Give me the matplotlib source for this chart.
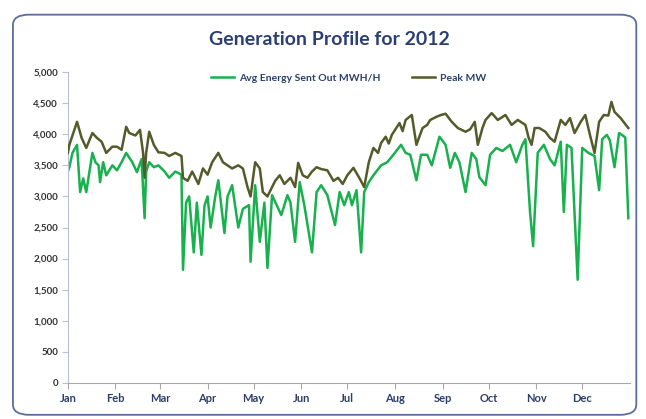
import numpy as np
import matplotlib
matplotlib.use("Agg")
import matplotlib.pyplot as plt
import matplotlib.dates as mdates
from matplotlib.patches import FancyBboxPatch

# Day-of-year (0 = 1 Jan 2012) and values
peak_days = [0, 1, 6, 9, 12, 16, 19, 22, 25, 29, 32, 35, 38, 40, 44, 47, 49, 50, 51, 53, 56, 59,
             63, 66, 70, 74, 75, 78, 81, 85, 88, 91, 94, 98, 101, 104, 107, 111, 114, 117, 119,
             122, 125, 127, 130, 132, 135, 138, 141, 145, 148, 150, 153, 156, 159, 162, 165, 169, 173, 176, 179,
             182, 186, 190, 193, 196, 199, 202, 204, 207, 209, 211, 216, 218, 220, 224, 227, 231, 234, 236, 240, 243,
             246, 250, 254, 259, 262, 265, 267, 270, 272, 276, 280, 285, 289, 293, 298, 300, 302,
             304, 307, 311, 314, 317, 321, 324, 327, 330, 334, 337, 340, 343, 346, 349, 352, 354, 356, 360, 365]
peak_mw = [3700, 3830, 4200, 3940, 3780, 4020, 3940, 3880, 3700, 3800, 3800, 3750, 4120, 4020, 3980, 4070, 3700, 3300, 3700, 4040, 3830, 3710,
           3700, 3650, 3700, 3650, 3300, 3250, 3400, 3200, 3450, 3350, 3550, 3700, 3550, 3500, 3450, 3500, 3450, 3150, 3000,
           3550, 3450, 3070, 3000, 3100, 3250, 3340, 3200, 3300, 3150, 3540, 3340, 3300, 3400, 3470, 3440, 3420, 3250, 3300, 3200,
           3340, 3460, 3290, 3150, 3550, 3780, 3700, 3860, 3960, 3850, 3990, 4180, 4050, 4230, 4310, 3830, 4100, 4150, 4230, 4280, 4310,
           4330, 4200, 4100, 4040, 4080, 4200, 3830, 4100, 4230, 4340, 4230, 4310, 4150, 4230, 4150, 3950, 3830,
           4100, 4100, 4040, 3940, 3880, 4230, 4150, 4260, 4020, 4200, 4310, 3990, 3700, 4200, 4310, 4300, 4520, 4360, 4260, 4100]

avg_days = [0, 1, 3, 6, 8, 10, 12, 16, 18, 20, 21, 23, 25, 29, 32, 35, 38, 42, 45, 48, 50, 51, 53, 56, 59,
            63, 66, 70, 74, 75, 77, 79, 82, 84, 87, 89, 91, 93, 96, 98, 102, 104, 107, 111, 114, 118, 119,
            122, 125, 128, 130, 133, 136, 139, 143, 145, 148, 151, 154, 159, 162, 165, 169, 174, 177, 180,
            183, 185, 188, 191, 193, 196, 199, 204, 208, 212, 217, 220, 223, 227, 230, 234, 237, 242,
            246, 249, 252, 255, 259, 263, 266, 268, 272, 275, 279, 283, 288, 292, 296, 298, 301, 303,
            306, 310, 314, 317, 321, 323, 325, 328, 332, 335, 339, 343, 346, 348, 351, 353, 356, 359, 363, 365]
avg_energy = [3400, 3470, 3700, 3830, 3070, 3290, 3070, 3700, 3550, 3500, 3230, 3550, 3340, 3500, 3420, 3550, 3700, 3550, 3390, 3600, 2650, 3400, 3550, 3470, 3500,
              3400, 3300, 3400, 3350, 1820, 2900, 3000, 2100, 2900, 2060, 2850, 3000, 2500, 3000, 3260, 2410, 3000, 3180, 2500, 2800, 2860, 1950,
              3180, 2270, 2900, 1850, 3020, 2860, 2700, 3020, 2900, 2270, 3230, 2860, 2100, 3070, 3180, 3020, 2540, 3070, 2860,
              3070, 2860, 3100, 2100, 3070, 3230, 3340, 3500, 3550, 3670, 3830, 3700, 3670, 3260, 3670, 3670, 3500, 3960,
              3830, 3460, 3700, 3550, 3070, 3700, 3600, 3310, 3180, 3670, 3780, 3730, 3830, 3550, 3830, 3920, 2750, 2200,
              3700, 3830, 3600, 3500, 3880, 2750, 3830, 3780, 1660, 3780, 3700, 3650, 3100, 3920, 3990, 3900, 3470, 4020, 3950, 2650]

months = ["Jan", "Feb", "Mar", "Apr", "May", "Jun", "Jul", "Aug", "Sep", "Oct", "Nov", "Dec"]
y_ticks = [0, 500, 1000, 1500, 2000, 2500, 3000, 3500, 4000, 4500, 5000]

start = np.datetime64("2012-01-01")
peak_dates = start + np.array(peak_days).astype("timedelta64[D]")
avg_dates = start + np.array(avg_days).astype("timedelta64[D]")

plt.rcParams["font.family"] = ["Lato", "DejaVu Sans"]

fig = plt.figure(figsize=(6.46, 4.19), dpi=100)
fig.patch.set_facecolor("white")
border = FancyBboxPatch((0.02, 0.01), 0.965, 0.955, boxstyle="round,pad=0,rounding_size=0.025",
                        transform=fig.transFigure, fill=False, edgecolor="#5A6E9C", linewidth=1.3)
fig.patches.append(border)

ax = fig.add_axes([0.105, 0.086, 0.870, 0.742])
green = "#19B04E"
olive = "#545B2B"
ax.plot(avg_dates, avg_energy, color=green, lw=1.8, label="Avg Energy Sent Out MWH/H", zorder=2)
ax.plot(peak_dates, peak_mw, color=olive, lw=1.8, label="Peak MW", zorder=3)

ax.set_ylim(0, 5000)
ax.set_yticks(y_ticks)
ax.set_yticklabels([f"{v:,}" for v in y_ticks])
ax.set_xlim(start, np.datetime64("2013-01-01"))
month_starts = [np.datetime64(f"2012-{m:02d}-01") for m in range(1, 13)]
ax.set_xticks(month_starts)
ax.set_xticklabels(months)

for s in ["top", "right"]:
    ax.spines[s].set_visible(False)
ax.spines["left"].set_color("#B8C0D8")
ax.spines["bottom"].set_color("#A8A8A8")
ax.tick_params(axis="y", direction="out", length=4, color="#B8C0D8", labelsize=7, labelcolor="#333333", pad=3)
ax.tick_params(axis="x", direction="out", length=4, color="#A8A8A8", labelsize=8, labelcolor="#2B3F6B", pad=3)
for lab in ax.get_yticklabels() + ax.get_xticklabels():
    lab.set_fontweight("bold")

fig.text(0.51, 0.905, "Generation Profile for 2012", ha="center", va="center",
         fontsize=14, fontweight="bold", color="#2B3F73")
leg = ax.legend(loc="upper center", bbox_to_anchor=(0.5, 1.025), ncol=2, frameon=False,
                fontsize=7.5, handlelength=2.2, columnspacing=3.0, handletextpad=0.5)
for t in leg.get_texts():
    t.set_fontweight("bold")
    t.set_color("#2B3F6B")

fig.savefig("out.png", dpi=100)
